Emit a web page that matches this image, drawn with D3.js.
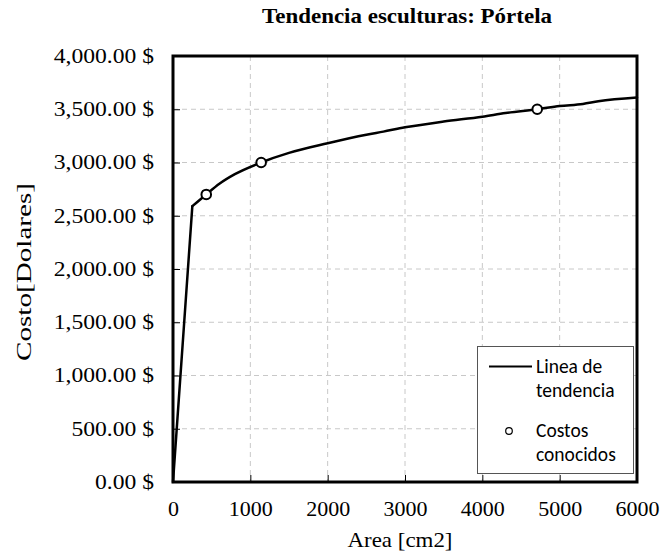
<!DOCTYPE html>
<html>
<head>
<meta charset="utf-8">
<script src="https://cdn.jsdelivr.net/npm/d3@7"></script>
<style>
  body { margin: 0; background: #fff; }
  svg { display: block; }
</style>
</head>
<body>
<div id="chart"></div>
<script>
// ---- Data ----
const trendArea = [0, 250, 430, 600, 800, 1140, 1500, 2000, 2500, 2720, 3000, 3500, 4000, 4300, 4710, 5000, 5300, 5500, 6000];
const trendCost = [0, 2590, 2700, 2800, 2890, 3000, 3090, 3180, 3260, 3290, 3330, 3385, 3430, 3465, 3500, 3530, 3550, 3575, 3610];
const knownArea = [430, 1140, 4710];
const knownCost = [2700, 3000, 3500];
const xTicks = [0, 1000, 2000, 3000, 4000, 5000, 6000];
const yTicks = [0, 500, 1000, 1500, 2000, 2500, 3000, 3500, 4000];
const titleText = "Tendencia esculturas: Pórtela";
const xLabel = "Area [cm2]";
const yLabel = "Costo[Dolares]";
const legendLabels = [["Linea de", "tendencia"], ["Costos", "conocidos"]];

// ---- Layout ----
const W = 660, H = 555;
const m = { left: 173, top: 56, right: 23, bottom: 73 };
const pw = W - m.left - m.right, ph = H - m.top - m.bottom;

const svg = d3.select("#chart").append("svg").attr("width", W).attr("height", H);
const g = svg.append("g").attr("transform", `translate(${m.left},${m.top})`);

const x = d3.scaleLinear().domain([0, 6000]).range([0, pw]);
const y = d3.scaleLinear().domain([0, 4000]).range([ph, 0]);

const serif = "'Liberation Serif', 'Times New Roman', serif";

// gridlines
g.append("g").selectAll("line").data(xTicks.slice(1, -1)).join("line")
  .attr("x1", d => x(d)).attr("x2", d => x(d)).attr("y1", 0).attr("y2", ph)
  .attr("stroke", "#c8c8c8").attr("stroke-width", 1).attr("stroke-dasharray", "5,4");
g.append("g").selectAll("line").data(yTicks.slice(1, -1)).join("line")
  .attr("y1", d => y(d)).attr("y2", d => y(d)).attr("x1", 0).attr("x2", pw)
  .attr("stroke", "#c8c8c8").attr("stroke-width", 1).attr("stroke-dasharray", "5,4");

// axes
const fmt = d3.format(",.2f");
const ySX = 1.18;
const yAxis = g.append("g").call(d3.axisLeft(y).tickValues(yTicks).tickSize(-7).tickPadding(19).tickFormat(d => fmt(d) + " $"));
yAxis.select(".domain").remove();
yAxis.selectAll(".tick line").attr("stroke", "#000").attr("stroke-width", 1);
yAxis.selectAll("text").attr("font-family", serif).attr("font-size", 20).attr("fill", "#000")
  .attr("x", -19 / ySX).attr("transform", `scale(${ySX},1)`);

const xAxis = g.append("g").attr("transform", `translate(0,${ph})`)
  .call(d3.axisBottom(x).tickValues(xTicks).tickSize(-7).tickPadding(20).tickFormat(d3.format("d")));
xAxis.select(".domain").remove();
xAxis.selectAll(".tick line").attr("stroke", "#000").attr("stroke-width", 1);
xAxis.selectAll("text").attr("font-family", serif).attr("font-size", 20).attr("fill", "#000")
  .attr("transform", "scale(1.1,1)");

// frame
g.append("rect").attr("x", 0).attr("y", 0).attr("width", pw).attr("height", ph)
  .attr("fill", "none").attr("stroke", "#000").attr("stroke-width", 3);

// trend line: straight rise to the knee, then a smooth curve
const trend = trendArea.map((a, i) => [a, trendCost[i]]);
const lineLin = d3.line().x(d => x(d[0])).y(d => y(d[1]));
const lineSmooth = d3.line().x(d => x(d[0])).y(d => y(d[1])).curve(d3.curveMonotoneX);
g.append("path").datum(trend.slice(0, 2)).attr("d", lineLin)
  .attr("fill", "none").attr("stroke", "#000").attr("stroke-width", 2.5).attr("stroke-linecap", "round");
g.append("path").datum(trend.slice(1)).attr("d", lineSmooth)
  .attr("fill", "none").attr("stroke", "#000").attr("stroke-width", 2.5).attr("stroke-linecap", "round");

// known points
const known = knownArea.map((a, i) => [a, knownCost[i]]);
g.append("g").selectAll("circle").data(known).join("circle")
  .attr("cx", d => x(d[0])).attr("cy", d => y(d[1])).attr("r", 4.8)
  .attr("fill", "#fff").attr("stroke", "#000").attr("stroke-width", 2);

// title
svg.append("text").attr("x", 407).attr("y", 23).attr("text-anchor", "middle")
  .attr("font-family", serif).attr("font-weight", "bold").attr("font-size", 22)
  .attr("textLength", 290).attr("lengthAdjust", "spacingAndGlyphs").text(titleText);

// axis titles
svg.append("text").attr("x", 400).attr("y", 547).attr("text-anchor", "middle")
  .attr("font-family", serif).attr("font-size", 22)
  .attr("textLength", 105).attr("lengthAdjust", "spacingAndGlyphs").text(xLabel);
svg.append("text").attr("transform", `translate(31,272) rotate(-90)`).attr("text-anchor", "middle")
  .attr("font-family", serif).attr("font-size", 22)
  .attr("textLength", 178).attr("lengthAdjust", "spacingAndGlyphs").text(yLabel);

// legend
const sans = "Carlito, Lato, 'Open Sans', sans-serif";
const leg = svg.append("g");
leg.append("rect").attr("x", 477.5).attr("y", 346.5).attr("width", 156).attr("height", 127)
  .attr("fill", "#fff").attr("stroke", "#555").attr("stroke-width", 1);
leg.append("line").attr("x1", 489).attr("x2", 532).attr("y1", 366.5).attr("y2", 366.5)
  .attr("stroke", "#000").attr("stroke-width", 2);
leg.append("circle").attr("cx", 509).attr("cy", 431).attr("r", 3.3)
  .attr("fill", "#fff").attr("stroke", "#000").attr("stroke-width", 1.2);
legendLabels.forEach((lines, i) => {
  const t = leg.append("text").attr("x", 536).attr("y", i === 0 ? 373 : 437)
    .attr("font-family", sans).attr("font-size", 19.5).attr("fill", "#000");
  lines.forEach((s, j) => t.append("tspan").attr("x", 536).attr("dy", j === 0 ? 0 : 24).text(s));
});
</script>
</body>
</html>
